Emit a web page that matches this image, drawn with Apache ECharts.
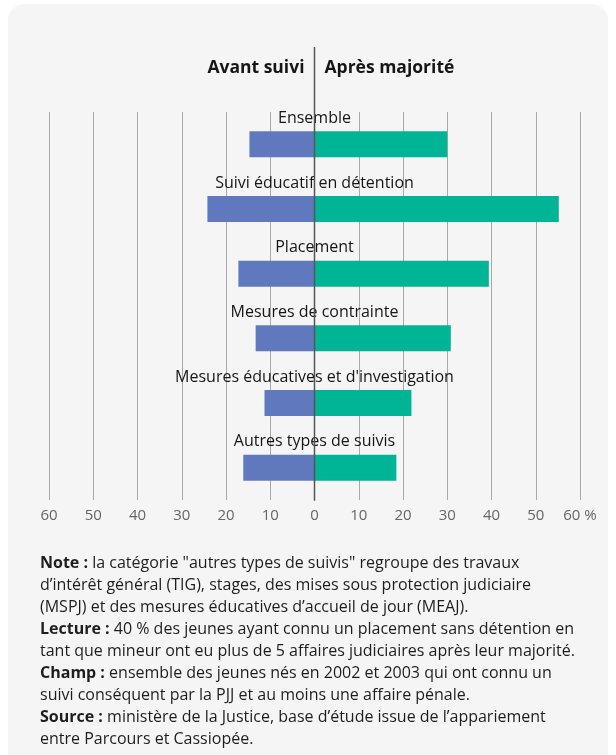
<!DOCTYPE html>
<html>
<head>
<meta charset="utf-8">
<script src="https://cdn.jsdelivr.net/npm/echarts@6/dist/echarts.min.js"></script>
<style>
  html, body { margin: 0; padding: 0; background: #fff; }
  #card {
    position: absolute; left: 8px; top: 4px; width: 600px; height: 800px;
    background: #f5f5f5; border-radius: 16px;
  }
  #chart { position: absolute; left: 0; top: 0; width: 616px; height: 755px; }
  #notes {
    position: absolute; left: 40px; top: 551px; width: 575px;
    font-family: "Open Sans", sans-serif; font-size: 16px; line-height: 22px; color: #1e1e1e;
    white-space: nowrap;
  }
  #notes b { font-weight: 700; }
</style>
</head>
<body>
<div id="card"></div>
<div id="chart"></div>
<div id="notes">
  <b>Note :</b> la catégorie "autres types de suivis" regroupe des travaux<br>
  d’intérêt général (TIG), stages, des mises sous protection judiciaire<br>
  (MSPJ) et des mesures éducatives d’accueil de jour (MEAJ).<br>
  <b>Lecture :</b> 40 % des jeunes ayant connu un placement sans détention en<br>
  tant que mineur ont eu plus de 5 affaires judiciaires après leur majorité.<br>
  <b>Champ :</b> ensemble des jeunes nés en 2002 et 2003 qui ont connu un<br>
  suivi conséquent par la PJJ et au moins une affaire pénale.<br>
  <b>Source :</b> ministère de la Justice, base d’étude issue de l’appariement<br>
  entre Parcours et Cassiopée.
</div>
<script>
// données (%)
const categories = [
  "Ensemble",
  "Suivi éducatif en détention",
  "Placement",
  "Mesures de contrainte",
  "Mesures éducatives et d'investigation",
  "Autres types de suivis"
];
const avantSuivi = [14.7, 24.2, 17.2, 13.3, 11.3, 16.1];
const apresMajorite = [30.0, 55.2, 39.4, 30.8, 21.9, 18.5];

const chart = echarts.init(document.getElementById("chart"));

chart.setOption({
  backgroundColor: "transparent",
  animation: false,
  textStyle: { fontFamily: "Open Sans, sans-serif" },
  grid: { left: 49, right: 36, top: 112, bottom: 255, containLabel: false },
  xAxis: {
    type: "value",
    min: -60,
    max: 60,
    interval: 10,
    axisLine: { show: false },
    axisTick: { show: false },
    splitLine: { lineStyle: { color: "#a8a8a8", width: 1 } },
    axisLabel: {
      color: "#666",
      fontSize: 15,
      margin: 8,
      formatter: function(v) {
        return v === 60 ? "60 %" : String(Math.abs(v));
      }
    }
  },
  yAxis: {
    type: "category",
    data: categories,
    inverse: true,
    axisLine: { show: false },
    axisTick: { show: false },
    axisLabel: { show: false }
  },
  series: [
    {
      name: "Avant suivi",
      type: "bar",
      stack: "total",
      barWidth: 26,
      itemStyle: { color: "#6079be" },
      data: avantSuivi.map(v => -v)
    },
    {
      name: "Après majorité",
      type: "bar",
      stack: "total",
      barWidth: 26,
      itemStyle: { color: "#00b596" },
      data: apresMajorite
    },
    {
      // libellés des catégories centrés sur l'axe zéro
      type: "scatter",
      symbolSize: 0,
      silent: true,
      itemStyle: { opacity: 1 },
      data: categories.map(c => [0, c]),
      label: {
        show: true,
        position: "top",
        distance: 18,
        color: "#161616",
        fontSize: 16,
        formatter: p => p.data[1]
      },
      z: 5
    }
  ]
});

// ligne du zéro prolongée jusqu'aux titres
const x0 = chart.convertToPixel({ xAxisIndex: 0 }, 0);
const yBottom = chart.convertToPixel({ yAxisIndex: 0 }, categories[categories.length - 1]) + 33;
chart.setOption({
  graphic: [
    {
      type: "line",
      shape: { x1: x0, y1: 47, x2: x0, y2: yBottom },
      style: { stroke: "#555", lineWidth: 1.5 },
      z: 10
    },
    {
      type: "text",
      x: x0 - 10,
      y: 68,
      style: {
        text: "Avant suivi",
        align: "right",
        verticalAlign: "middle",
        font: "bold 17.5px 'Open Sans', sans-serif",
        fill: "#161616"
      }
    },
    {
      type: "text",
      x: x0 + 10,
      y: 68,
      style: {
        text: "Après majorité",
        align: "left",
        verticalAlign: "middle",
        font: "bold 17.5px 'Open Sans', sans-serif",
        fill: "#161616"
      }
    }
  ]
});
</script>
</body>
</html>
